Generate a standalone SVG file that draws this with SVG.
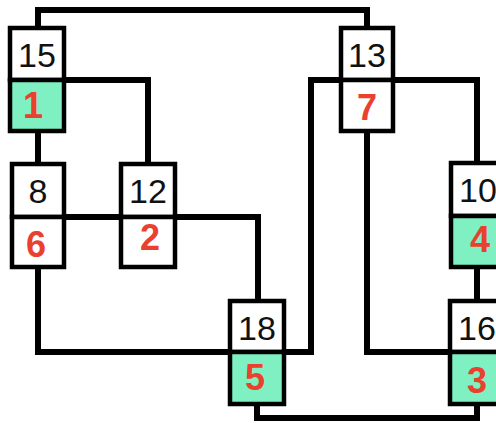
<svg xmlns="http://www.w3.org/2000/svg" width="496" height="423" viewBox="0 0 496 423">
<style>
.bg{fill:#ffffff}
.wire{fill:none;stroke:#000;stroke-width:6;stroke-linejoin:miter;stroke-linecap:square}
.cell{fill:#ffffff;stroke:#000;stroke-width:4.5}
.cell.g{fill:#7ff0c2}
.k{font-family:"Liberation Sans",Arial,sans-serif;font-size:34px;fill:#111;text-anchor:middle}
.r{font-family:"Liberation Sans",Arial,sans-serif;font-size:36px;font-weight:bold;fill:#e8412e;text-anchor:middle}
</style>
<rect class="bg" x="0" y="0" width="496" height="423"/>
<g id="connectors">
<path class="wire" d="M38,28 V10 H367 V28"/>
<path class="wire" d="M64,80 H148 V164"/>
<path class="wire" d="M38,131 V164"/>
<path class="wire" d="M64,217 H258 V301"/>
<path class="wire" d="M38,267 V352 H230"/>
<path class="wire" d="M284,352 H311 V80 H341"/>
<path class="wire" d="M393,80 H477 V163"/>
<path class="wire" d="M367,131 V352 H450"/>
<path class="wire" d="M477,267 V301"/>
<path class="wire" d="M257,404 V418 H477 V404"/>
</g>
<g id="n15">
<rect class="cell" x="10" y="28" width="54" height="52"/>
<rect class="cell g" x="10" y="80" width="54" height="51"/>
<text class="k" x="37" y="67">15</text>
<text class="r" x="33" y="118">1</text>
</g>
<g id="n13">
<rect class="cell" x="341" y="28" width="52" height="52"/>
<rect class="cell" x="341" y="80" width="52" height="51"/>
<text class="k" x="367" y="67">13</text>
<text class="r" x="367" y="120">7</text>
</g>
<g id="n8">
<rect class="cell" x="12" y="164" width="52" height="53"/>
<rect class="cell" x="12" y="217" width="52" height="50"/>
<text class="k" x="38" y="203">8</text>
<text class="r" x="36" y="257">6</text>
</g>
<g id="n12">
<rect class="cell" x="121" y="164" width="54" height="53"/>
<rect class="cell" x="121" y="217" width="54" height="50"/>
<text class="k" x="148" y="203">12</text>
<text class="r" x="150" y="250">2</text>
</g>
<g id="n10">
<rect class="cell" x="451" y="163" width="54" height="53"/>
<rect class="cell g" x="451" y="216" width="54" height="51"/>
<text class="k" x="478" y="202">10</text>
<text class="r" x="480" y="252">4</text>
</g>
<g id="n18">
<rect class="cell" x="230" y="301" width="54" height="51"/>
<rect class="cell g" x="230" y="352" width="54" height="52"/>
<text class="k" x="257" y="340">18</text>
<text class="r" x="255" y="390">5</text>
</g>
<g id="n16">
<rect class="cell" x="450" y="301" width="54" height="51"/>
<rect class="cell g" x="450" y="352" width="54" height="52"/>
<text class="k" x="477" y="340">16</text>
<text class="r" x="477" y="393">3</text>
</g>
</svg>
